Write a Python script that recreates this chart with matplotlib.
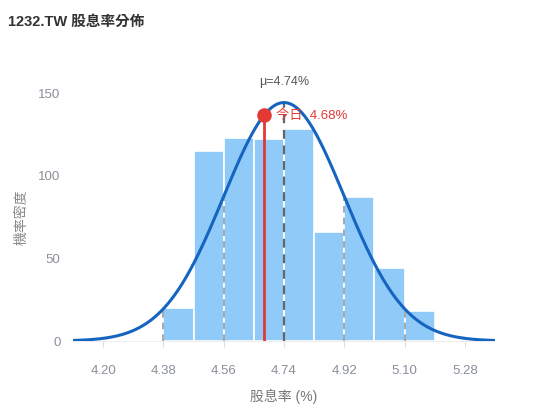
import numpy as np
import matplotlib
matplotlib.use("Agg")
import matplotlib.pyplot as plt

plt.rcParams['font.family'] = ['Liberation Sans', 'Noto Sans CJK TC', 'DejaVu Sans']

title = "1232.TW 股息率分佈"
bin_edges = [4.38, 4.47, 4.56, 4.65, 4.74, 4.83, 4.92, 5.01, 5.10, 5.19]
counts = [20, 115, 123, 122, 128, 66, 87, 44, 18]
mu = 4.74
sigma = 0.18
today = 4.68
x_ticks = [4.20, 4.38, 4.56, 4.74, 4.92, 5.10, 5.28]
y_ticks = [0, 50, 100, 150]

bin_w = bin_edges[1] - bin_edges[0]
scale = sum(counts) * bin_w

def curve(x):
    return scale * np.exp(-0.5 * ((np.asarray(x) - mu) / sigma) ** 2) / (sigma * np.sqrt(2 * np.pi))

fig = plt.figure(figsize=(5.5, 4.2), dpi=100)
ax = fig.add_axes([73/550, 1-341/420, (495-73)/550, (341-93)/420])

lefts = bin_edges[:-1]
ax.bar(lefts, counts, width=bin_w, align='edge', color='#90CAF9',
       edgecolor='white', linewidth=1.2, zorder=2)

# sigma lines
for k in [-2, -1, 0, 1, 2]:
    xv = mu + k * sigma
    ax.plot([xv, xv], [0, curve(xv)], color='#666666' if k == 0 else '#999999',
            linestyle=(0, (4, 3)), linewidth=1.6 if k == 0 else 1.2, zorder=3)

xlo, xhi = mu - 3.5 * sigma, mu + 3.5 * sigma
xs = np.linspace(xlo, xhi, 400)
ax.plot(xs, curve(xs), color='#1565C0', linewidth=2.2, zorder=4)

ty = float(curve(today))
ax.plot([today, today], [0, ty], color='#E53935', linewidth=2, zorder=5)
ax.scatter([today], [ty], s=110, color='#E53935', zorder=6, linewidths=0)
ax.text(today + 0.035, ty, f"今日  {today:.2f}%", color='#E53935', fontsize=9.5,
        va='center', ha='left', zorder=7)
ax.text(mu, curve(mu) + 9, f"μ={mu:.2f}%", color='#555555', fontsize=9,
        va='bottom', ha='center')

ax.set_xlim(xlo, xhi)
ax.set_ylim(0, 150)
ax.set_xticks(x_ticks)
ax.set_xticklabels([f"{t:.2f}" for t in x_ticks])
ax.set_yticks(y_ticks)
for s in ['top', 'right', 'left']:
    ax.spines[s].set_visible(False)
ax.spines['bottom'].set_color('#eeeeee')
ax.tick_params(axis='y', length=0, colors='#8a8f99', labelsize=9.5, pad=9)
ax.tick_params(axis='x', length=4, color='#dddddd', colors='#8a8f99', labelsize=9.5, pad=13)
ax.set_xlabel("股息率 (%)", color='#777777', fontsize=10, labelpad=9)
ax.set_ylabel("機率密度", color='#888888', fontsize=10, labelpad=7)

fig.text(8/550, 1-22/420, title, fontsize=10.5, fontweight='bold', color='#333333',
         va='center', ha='left')

fig.savefig("out.png", dpi=100)
